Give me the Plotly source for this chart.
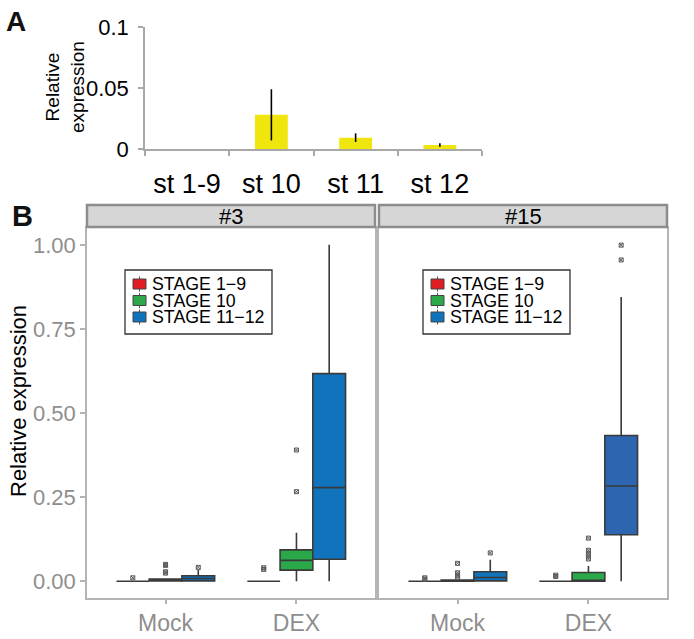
import plotly.graph_objects as go

W, H = 694, 639

# ---------------- Panel A data ----------------
stages_a = ["st 1-9", "st 10", "st 11", "st 12"]
expr_a = [0.0, 0.028, 0.0093, 0.0033]
err_a = [0.0, 0.021, 0.0035, 0.0014]

# ---------------- Panel B data ----------------
treatments = ["Mock", "DEX"]
stage_names = ["STAGE 1\u22129", "STAGE 10", "STAGE 11\u221212"]
lines_b = ["#3", "#15"]

# rows = stage (1-9, 10, 11-12); columns = treatment (Mock, DEX)
l3_lower = [[0.0, 0.0], [0.0, 0.0], [0.0, 0.0]]
l3_q1 = [[0.0, 0.0], [0.001, 0.033], [0.001, 0.065]]
l3_median = [[0.0, 0.0], [0.004, 0.062], [0.008, 0.278]]
l3_q3 = [[0.0, 0.0], [0.006, 0.093], [0.016, 0.617]]
l3_upper = [[0.0, 0.0], [0.008, 0.144], [0.033, 1.0]]
l3_outliers = [[[0.01], [0.035, 0.04]],
               [[0.05, 0.047, 0.028, 0.024], [0.39, 0.266]],
               [[0.041], []]]

l15_lower = [[0.0, 0.0], [0.0, 0.0], [0.0, 0.0]]
l15_q1 = [[0.0, 0.0], [0.0, 0.0], [0.001, 0.138]]
l15_median = [[0.0, 0.0], [0.001, 0.001], [0.011, 0.283]]
l15_q3 = [[0.0, 0.0], [0.003, 0.026], [0.028, 0.433]]
l15_upper = [[0.0, 0.0], [0.004, 0.045], [0.064, 0.845]]
l15_outliers = [[[0.006, 0.01], [0.014, 0.018]],
                [[0.053, 0.025, 0.018, 0.012], [0.128, 0.092, 0.083, 0.075, 0.066]],
                [[0.084], [0.999, 0.955]]]

stage_colors = ["#E21C23", "#2BA84A", "#1173BC"]
dex15_blue = "#2C65B0"

FONT = "Liberation Sans, Arial, sans-serif"


def px_x(x):
    return x / W


def px_y(y):
    return 1 - y / H


fig = go.Figure()

# ---- Panel A bars ----
fig.add_trace(go.Bar(
    x=stages_a, y=expr_a, xaxis="x", yaxis="y",
    marker=dict(color="#F1E50E", line=dict(width=0)),
    error_y=dict(type="data", array=err_a, visible=True, color="black",
                 thickness=1.6, width=0),
    showlegend=False,
))

# ---- Panel B boxes ----
panel_data = [
    (l3_lower, l3_q1, l3_median, l3_q3, l3_upper, l3_outliers, "x2", "y2"),
    (l15_lower, l15_q1, l15_median, l15_q3, l15_upper, l15_outliers, "x3", "y3"),
]
dodge = 0.25
for pi, (lo, q1, me, q3, up, outl, xa, ya) in enumerate(panel_data):
    for si in range(3):
        for ti in range(2):
            pos = (ti + 1) + (si - 1) * dodge
            col = stage_colors[si]
            if pi == 1 and si == 2 and ti == 1:
                col = dex15_blue
            fig.add_trace(go.Box(
                x=[pos], q1=[q1[si][ti]], median=[me[si][ti]], q3=[q3[si][ti]],
                lowerfence=[lo[si][ti]], upperfence=[up[si][ti]],
                width=dodge, whiskerwidth=0, boxpoints=False,
                fillcolor=col, line=dict(color="#3A3A3A", width=1.6),
                xaxis=xa, yaxis=ya, showlegend=False, hoverinfo="skip",
            ))
            pts = outl[si][ti]
            if pts:
                fig.add_trace(go.Scatter(
                    x=[pos] * len(pts), y=pts, mode="markers",
                    marker=dict(symbol="square-x-open", size=4, color="#5A5A5A",
                                line=dict(width=1)),
                    xaxis=xa, yaxis=ya, showlegend=False, hoverinfo="skip",
                ))

# ---- Axes ----
axis_grey = "#A8A8A8"
layout = dict(
    width=W, height=H, autosize=False,
    margin=dict(l=0, r=0, t=0, b=0, pad=0),
    paper_bgcolor="white", plot_bgcolor="white",
    font=dict(family=FONT, color="black"),
    showlegend=False,
    bargap=0.61,
    xaxis=dict(domain=[px_x(145), px_x(482)], anchor="y", type="category",
               range=[-0.5, 3.5], showline=True, linecolor=axis_grey, linewidth=1.5,
               ticks="outside", tickson="boundaries", ticklen=5, tickcolor=axis_grey,
               tickwidth=1.5, tickfont=dict(size=27, color="black"),
               ticklabelstandoff=10, showgrid=False, zeroline=False, automargin=False),
    yaxis=dict(domain=[px_y(149), px_y(27)], anchor="x", range=[0, 0.1],
               tickvals=[0, 0.05, 0.1], ticktext=["0", "0.05", "0.1"],
               showline=True, linecolor=axis_grey, linewidth=1.5,
               ticks="outside", ticklen=5, tickcolor=axis_grey, tickwidth=1.5,
               tickfont=dict(size=22, color="black"), ticklabelstandoff=5,
               showgrid=False, zeroline=False, automargin=False),
)

for xa, ya, dom in [("xaxis2", "yaxis2", [87, 375]), ("xaxis3", "yaxis3", [379, 667])]:
    layout[xa] = dict(domain=[px_x(dom[0]), px_x(dom[1])], anchor=ya.replace("axis", ""),
                      range=[0.4, 2.6], tickvals=[1, 2], ticktext=treatments,
                      showline=True, mirror=True, linecolor="#B4B4B4", linewidth=1.5,
                      ticks="outside", ticklen=4, tickcolor="#B4B4B4", tickwidth=1.5,
                      tickfont=dict(size=23, color="#8E8E8E"),
                      showgrid=False, zeroline=False, automargin=False)
    is_left = xa == "xaxis2"
    layout[ya] = dict(domain=[px_y(598), px_y(228)], anchor=xa.replace("axis", ""),
                      range=[-0.05, 1.05], tickvals=[0, 0.25, 0.5, 0.75, 1.0],
                      ticktext=["0.00", "0.25", "0.50", "0.75", "1.00"],
                      showticklabels=is_left, ticks="outside" if is_left else "",
                      ticklen=5, tickcolor="#B4B4B4", tickwidth=1.5,
                      tickfont=dict(size=22, color="#8E8E8E"),
                      showline=True, mirror=True, linecolor="#B4B4B4", linewidth=1.5,
                      showgrid=False, zeroline=False, automargin=False)

fig.update_layout(**layout)

shapes = []
annotations = []


def note(text, x, y, size, xanchor="center", angle=0, color="black"):
    annotations.append(dict(text=text, x=px_x(x), y=px_y(y), xref="paper", yref="paper",
                            xanchor=xanchor, yanchor="middle", showarrow=False,
                            textangle=angle, font=dict(size=size, family=FONT, color=color)))


# Panel letters
note("<b>A</b>", 16, 21, 28, color="#111")
note("<b>B</b>", 22, 216, 29, color="#111")

# Y titles
note("Relative<br>expression", 65, 87, 19, angle=-90)
note("Relative expression", 19, 401, 22, angle=-90)

# Facet strips
for lab, (x0, x1) in zip(lines_b, [(87, 375), (379, 667)]):
    shapes.append(dict(type="rect", xref="paper", yref="paper",
                       x0=px_x(x0), x1=px_x(x1), y0=px_y(227), y1=px_y(205),
                       fillcolor="#D6D6D6", line=dict(color="#8C8C8C", width=2.5)))
    note(lab, (x0 + x1) / 2, 216, 22)

# Manual legends (one per facet)
for dx in [0, 298]:
    shapes.append(dict(type="rect", xref="paper", yref="paper",
                       x0=px_x(125 + dx), x1=px_x(272 + dx), y0=px_y(334), y1=px_y(270),
                       fillcolor="white", line=dict(color="#333333", width=1.3)))
    for i, (nm, col) in enumerate(zip(stage_names, stage_colors)):
        cy = 284 + i * 16.5
        shapes.append(dict(type="line", xref="paper", yref="paper",
                           x0=px_x(139.5 + dx), x1=px_x(139.5 + dx),
                           y0=px_y(cy - 7.5), y1=px_y(cy + 7.5),
                           line=dict(color="#555555", width=1)))
        shapes.append(dict(type="rect", xref="paper", yref="paper",
                           x0=px_x(133 + dx), x1=px_x(146 + dx),
                           y0=px_y(cy + 5), y1=px_y(cy - 5),
                           fillcolor=col, line=dict(color="#444444", width=1)))
        note(nm, 150 + dx, cy, 17.8, xanchor="left")

fig.update_layout(shapes=shapes, annotations=annotations)

fig.write_html("out.html", config={"displayModeBar": False},
               post_script="document.body.style.margin='0px';")
